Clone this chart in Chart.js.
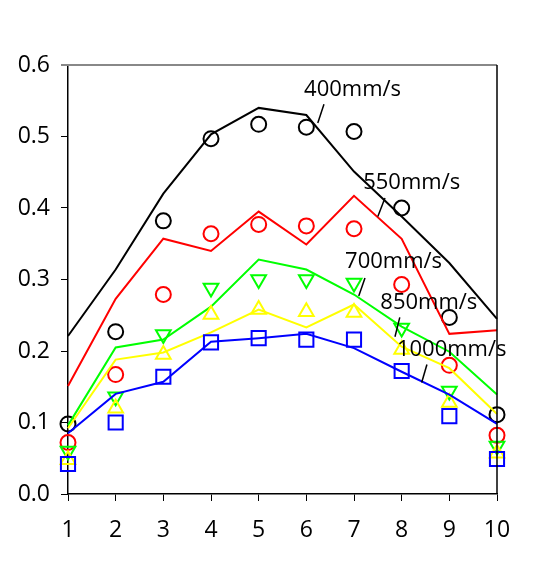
<!DOCTYPE html>
<html>
<head>
<meta charset="utf-8">
<script src="https://cdn.jsdelivr.net/npm/chart.js@4/dist/chart.umd.min.js"></script>
<style>
html,body{margin:0;padding:0;background:#fff;}
#wrap{width:552px;height:564px;}
</style>
</head>
<body>
<div id="wrap"><canvas id="c" width="552" height="564"></canvas></div>
<script>
const positions = [1,2,3,4,5,6,7,8,9,10];
const yTicks = [0,0.1,0.2,0.3,0.4,0.5,0.6];

const line400  = [0.221,0.314,0.420,0.503,0.540,0.530,0.451,0.388,0.323,0.245];
const meas400  = [0.098,0.227,0.382,0.497,0.517,0.513,0.507,0.400,0.247,0.111];
const line550  = [0.151,0.273,0.357,0.340,0.395,0.349,0.417,0.357,0.224,0.229];
const meas550  = [0.072,0.167,0.279,0.364,0.377,0.375,0.371,0.293,0.180,0.082];
const line700  = [0.096,0.205,0.216,0.262,0.328,0.314,0.279,0.234,0.199,0.139];
const meas700  = [0.060,0.136,0.223,0.288,0.300,0.300,0.295,0.232,0.144,0.067];
const line850  = [0.092,0.188,0.198,0.226,0.258,0.233,0.265,0.206,0.176,0.112];
const meas850  = [0.048,0.120,0.195,0.251,0.258,0.255,0.254,0.202,0.128,0.057];
const line1000 = [0.085,0.140,0.157,0.213,0.218,0.224,0.204,0.171,0.139,0.098];
const meas1000 = [0.042,0.100,0.164,0.212,0.218,0.216,0.216,0.172,0.109,0.049];

const labels = ["400mm/s","550mm/s","700mm/s","850mm/s","1000mm/s"];
// label anchor (x, y in data units) and leader line ends
const labelPos = [[6.97,0.566],[8.21,0.435],[7.83,0.325],[8.57,0.268],[9.05,0.202]];
const leaderFrom = [[6.37,0.545],[7.65,0.414],[7.23,0.302],[7.96,0.247],[8.53,0.181]];
const leaderTo   = [[6.24,0.519],[7.50,0.388],[7.10,0.277],[7.86,0.220],[8.42,0.156]];

const colors = ["#000000","#ff0000","#00ff00","#ffff00","#0000ff"];
const lines = [line400,line550,line700,line850,line1000];
const meas = [meas400,meas550,meas700,meas850,meas1000];
const styles = ["circle","circle","triangle","triangle","rect"];
const rots = [0,0,180,0,0];
const radii = [7.5,7.5,8.5,8.5,10];

const pts = arr => arr.map((v,i)=>({x:positions[i],y:v}));
const datasets = [];
for (let k=0;k<5;k++){
  datasets.push({type:'line',data:pts(lines[k]),borderColor:colors[k],borderWidth:2,pointRadius:0,fill:false,tension:0,order:10-2*k,clip:false});
}
for (let k=0;k<5;k++){
  datasets.push({type:'scatter',data:pts(meas[k]),borderColor:colors[k],backgroundColor:'rgba(0,0,0,0)',pointStyle:styles[k],rotation:rots[k],pointRadius:radii[k],pointBorderWidth:2,showLine:false,order:9-2*k,clip:false});
}

const frame = {
  id:'frame',
  afterDraw(chart){
    const {ctx,chartArea:a,scales} = chart;
    ctx.save();
    ctx.lineWidth=2;
    ctx.strokeStyle='#888888';
    ctx.beginPath();ctx.moveTo(a.left-7,a.top);ctx.lineTo(a.right,a.top);ctx.stroke();
    ctx.strokeStyle='#000';
    ctx.lineWidth=1.5;
    ctx.beginPath();ctx.moveTo(a.right,a.top);ctx.lineTo(a.right,a.bottom);ctx.stroke();
    // annotations
    ctx.fillStyle='#000';
    ctx.font='22px "Open Sans", sans-serif';
    ctx.textAlign='center';ctx.textBaseline='middle';
    ctx.lineWidth=1.5;
    for(let i=0;i<labels.length;i++){
      const x=scales.x.getPixelForValue(labelPos[i][0]);
      const y=scales.y.getPixelForValue(labelPos[i][1]);
      ctx.fillText(labels[i],x,y);
      ctx.beginPath();
      ctx.moveTo(scales.x.getPixelForValue(leaderFrom[i][0]),scales.y.getPixelForValue(leaderFrom[i][1]));
      ctx.lineTo(scales.x.getPixelForValue(leaderTo[i][0]),scales.y.getPixelForValue(leaderTo[i][1]));
      ctx.stroke();
    }
    ctx.restore();
  }
};

new Chart(document.getElementById('c'),{
  data:{datasets},
  options:{
    responsive:false,animation:false,
    layout:{padding:{top:65,right:55,left:0,bottom:0}},
    plugins:{legend:{display:false},tooltip:{enabled:false}},
    scales:{
      x:{type:'linear',min:1,max:10,
        afterBuildTicks(s){s.ticks=positions.map(v=>({value:v}));},
        afterFit(s){s.height=70;},
        ticks:{color:'#000',font:{size:23,family:'"Open Sans", sans-serif'},padding:16,callback:v=>String(v)},
        grid:{drawOnChartArea:false,tickLength:7,color:'#000'},
        border:{color:'#000',width:1.5}},
      y:{type:'linear',min:0,max:0.6,
        afterBuildTicks(s){s.ticks=yTicks.map(v=>({value:v}));},
        afterFit(s){s.width=68;},
        ticks:{color:'#000',font:{size:23,family:'"Open Sans", sans-serif'},padding:11,callback:v=>v.toFixed(1)},
        grid:{drawOnChartArea:false,tickLength:7,color:'#000'},
        border:{color:'#000',width:1.5}}
    }
  },
  plugins:[frame]
});
</script>
</body>
</html>
